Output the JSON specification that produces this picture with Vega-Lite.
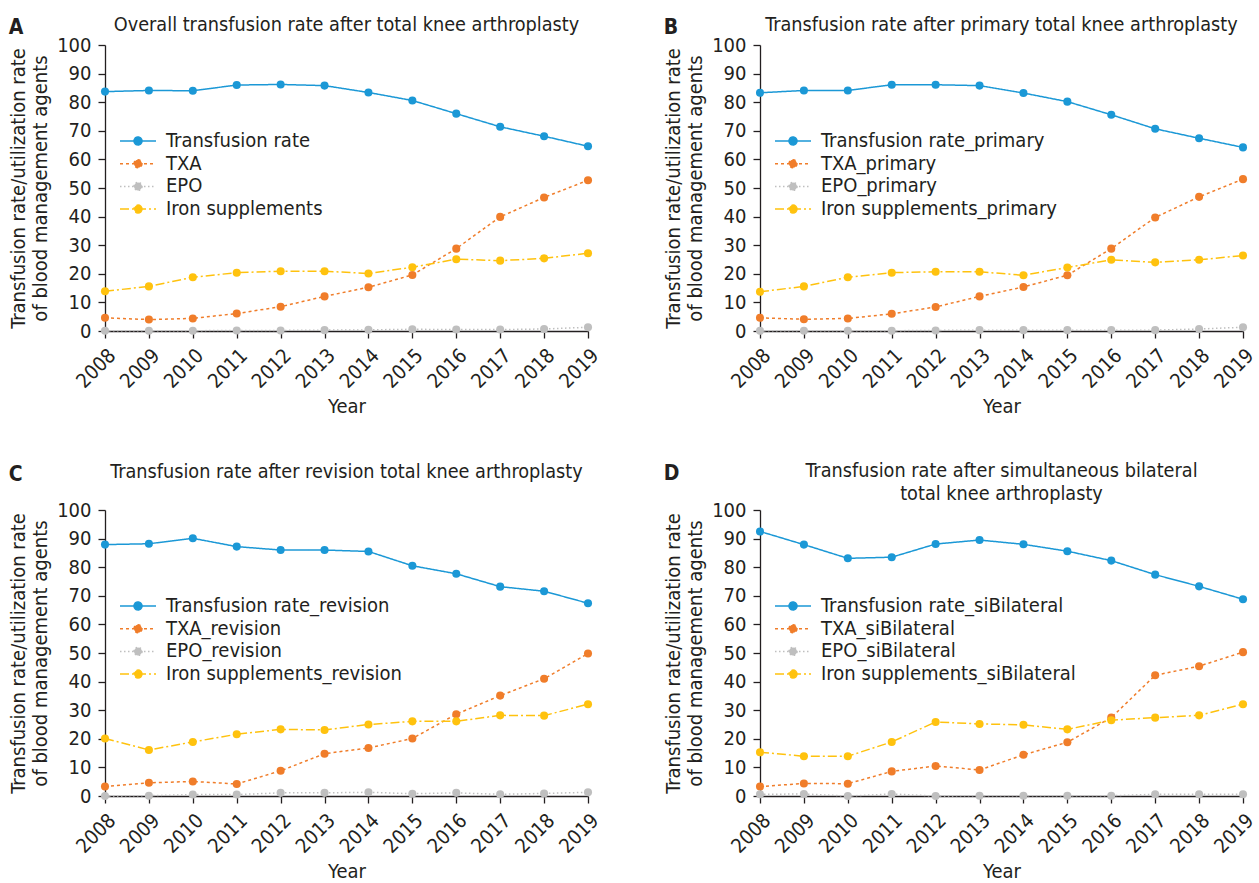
{
  "$schema": "https://vega.github.io/schema/vega-lite/v6.json",
  "background": "white",
  "padding": {"left": 8, "top": 15, "right": 0, "bottom": 0},
  "config": {
    "font": "Liberation Sans Narrow, Arial Narrow, DejaVu Sans Condensed, Liberation Sans",
    "view": {"stroke": null},
    "axis": {"grid": false, "domainColor": "#231F20", "tickColor": "#231F20", "labelColor": "#231F20", "titleColor": "#231F20", "labelFontSize": 20, "titleFontSize": 20, "titleFontWeight": "normal", "tickSize": 7, "domainWidth": 1.3, "tickWidth": 1.3, "labelPadding": 7},
    "title": {"color": "#231F20", "fontWeight": "normal", "fontSize": 19.7},
    "legend": {"orient": "none", "legendX": 22, "legendY": 85, "title": null, "labelFontSize": 20, "labelColor": "#231F20", "labelLimit": 0, "symbolType": "M-1.8,0H1.8M0.4,0A0.4,0.4,0,1,1,-0.4,0A0.4,0.4,0,1,1,0.4,0Z", "symbolSize": 400, "symbolStrokeWidth": 1.5, "symbolOpacity": 1, "labelOffset": 17, "rowPadding": 1.7}
  },
  "datasets": {
    "A": [
      {"year": "2008", "series": "Transfusion rate", "value": 83.7}, {"year": "2009", "series": "Transfusion rate", "value": 84.1}, {"year": "2010", "series": "Transfusion rate", "value": 84.0}, {"year": "2011", "series": "Transfusion rate", "value": 86.0}, {"year": "2012", "series": "Transfusion rate", "value": 86.2}, {"year": "2013", "series": "Transfusion rate", "value": 85.8}, {"year": "2014", "series": "Transfusion rate", "value": 83.4}, {"year": "2015", "series": "Transfusion rate", "value": 80.6}, {"year": "2016", "series": "Transfusion rate", "value": 76.0}, {"year": "2017", "series": "Transfusion rate", "value": 71.4}, {"year": "2018", "series": "Transfusion rate", "value": 68.1}, {"year": "2019", "series": "Transfusion rate", "value": 64.6},
      {"year": "2008", "series": "TXA", "value": 4.6}, {"year": "2009", "series": "TXA", "value": 4.0}, {"year": "2010", "series": "TXA", "value": 4.4}, {"year": "2011", "series": "TXA", "value": 6.1}, {"year": "2012", "series": "TXA", "value": 8.5}, {"year": "2013", "series": "TXA", "value": 12.1}, {"year": "2014", "series": "TXA", "value": 15.3}, {"year": "2015", "series": "TXA", "value": 19.6}, {"year": "2016", "series": "TXA", "value": 28.8}, {"year": "2017", "series": "TXA", "value": 39.9}, {"year": "2018", "series": "TXA", "value": 46.7}, {"year": "2019", "series": "TXA", "value": 52.7},
      {"year": "2008", "series": "EPO", "value": 0.1}, {"year": "2009", "series": "EPO", "value": 0.1}, {"year": "2010", "series": "EPO", "value": 0.1}, {"year": "2011", "series": "EPO", "value": 0.2}, {"year": "2012", "series": "EPO", "value": 0.2}, {"year": "2013", "series": "EPO", "value": 0.3}, {"year": "2014", "series": "EPO", "value": 0.4}, {"year": "2015", "series": "EPO", "value": 0.6}, {"year": "2016", "series": "EPO", "value": 0.5}, {"year": "2017", "series": "EPO", "value": 0.5}, {"year": "2018", "series": "EPO", "value": 0.7}, {"year": "2019", "series": "EPO", "value": 1.3},
      {"year": "2008", "series": "Iron supplements", "value": 13.9}, {"year": "2009", "series": "Iron supplements", "value": 15.6}, {"year": "2010", "series": "Iron supplements", "value": 18.8}, {"year": "2011", "series": "Iron supplements", "value": 20.4}, {"year": "2012", "series": "Iron supplements", "value": 20.9}, {"year": "2013", "series": "Iron supplements", "value": 20.9}, {"year": "2014", "series": "Iron supplements", "value": 20.1}, {"year": "2015", "series": "Iron supplements", "value": 22.3}, {"year": "2016", "series": "Iron supplements", "value": 25.1}, {"year": "2017", "series": "Iron supplements", "value": 24.6}, {"year": "2018", "series": "Iron supplements", "value": 25.4}, {"year": "2019", "series": "Iron supplements", "value": 27.2}
    ],
    "B": [
      {"year": "2008", "series": "Transfusion rate_primary", "value": 83.3}, {"year": "2009", "series": "Transfusion rate_primary", "value": 84.1}, {"year": "2010", "series": "Transfusion rate_primary", "value": 84.1}, {"year": "2011", "series": "Transfusion rate_primary", "value": 86.1}, {"year": "2012", "series": "Transfusion rate_primary", "value": 86.1}, {"year": "2013", "series": "Transfusion rate_primary", "value": 85.8}, {"year": "2014", "series": "Transfusion rate_primary", "value": 83.2}, {"year": "2015", "series": "Transfusion rate_primary", "value": 80.2}, {"year": "2016", "series": "Transfusion rate_primary", "value": 75.6}, {"year": "2017", "series": "Transfusion rate_primary", "value": 70.7}, {"year": "2018", "series": "Transfusion rate_primary", "value": 67.4}, {"year": "2019", "series": "Transfusion rate_primary", "value": 64.2},
      {"year": "2008", "series": "TXA_primary", "value": 4.6}, {"year": "2009", "series": "TXA_primary", "value": 4.1}, {"year": "2010", "series": "TXA_primary", "value": 4.4}, {"year": "2011", "series": "TXA_primary", "value": 6.0}, {"year": "2012", "series": "TXA_primary", "value": 8.4}, {"year": "2013", "series": "TXA_primary", "value": 12.1}, {"year": "2014", "series": "TXA_primary", "value": 15.4}, {"year": "2015", "series": "TXA_primary", "value": 19.5}, {"year": "2016", "series": "TXA_primary", "value": 28.8}, {"year": "2017", "series": "TXA_primary", "value": 39.7}, {"year": "2018", "series": "TXA_primary", "value": 46.9}, {"year": "2019", "series": "TXA_primary", "value": 53.1},
      {"year": "2008", "series": "EPO_primary", "value": 0.1}, {"year": "2009", "series": "EPO_primary", "value": 0.1}, {"year": "2010", "series": "EPO_primary", "value": 0.1}, {"year": "2011", "series": "EPO_primary", "value": 0.1}, {"year": "2012", "series": "EPO_primary", "value": 0.2}, {"year": "2013", "series": "EPO_primary", "value": 0.3}, {"year": "2014", "series": "EPO_primary", "value": 0.3}, {"year": "2015", "series": "EPO_primary", "value": 0.3}, {"year": "2016", "series": "EPO_primary", "value": 0.3}, {"year": "2017", "series": "EPO_primary", "value": 0.3}, {"year": "2018", "series": "EPO_primary", "value": 0.7}, {"year": "2019", "series": "EPO_primary", "value": 1.3},
      {"year": "2008", "series": "Iron supplements_primary", "value": 13.7}, {"year": "2009", "series": "Iron supplements_primary", "value": 15.6}, {"year": "2010", "series": "Iron supplements_primary", "value": 18.8}, {"year": "2011", "series": "Iron supplements_primary", "value": 20.4}, {"year": "2012", "series": "Iron supplements_primary", "value": 20.7}, {"year": "2013", "series": "Iron supplements_primary", "value": 20.7}, {"year": "2014", "series": "Iron supplements_primary", "value": 19.5}, {"year": "2015", "series": "Iron supplements_primary", "value": 22.2}, {"year": "2016", "series": "Iron supplements_primary", "value": 24.9}, {"year": "2017", "series": "Iron supplements_primary", "value": 24.0}, {"year": "2018", "series": "Iron supplements_primary", "value": 24.9}, {"year": "2019", "series": "Iron supplements_primary", "value": 26.4}
    ],
    "C": [
      {"year": "2008", "series": "Transfusion rate_revision", "value": 87.9}, {"year": "2009", "series": "Transfusion rate_revision", "value": 88.2}, {"year": "2010", "series": "Transfusion rate_revision", "value": 90.1}, {"year": "2011", "series": "Transfusion rate_revision", "value": 87.2}, {"year": "2012", "series": "Transfusion rate_revision", "value": 86.0}, {"year": "2013", "series": "Transfusion rate_revision", "value": 86.0}, {"year": "2014", "series": "Transfusion rate_revision", "value": 85.5}, {"year": "2015", "series": "Transfusion rate_revision", "value": 80.5}, {"year": "2016", "series": "Transfusion rate_revision", "value": 77.7}, {"year": "2017", "series": "Transfusion rate_revision", "value": 73.2}, {"year": "2018", "series": "Transfusion rate_revision", "value": 71.6}, {"year": "2019", "series": "Transfusion rate_revision", "value": 67.4},
      {"year": "2008", "series": "TXA_revision", "value": 3.3}, {"year": "2009", "series": "TXA_revision", "value": 4.6}, {"year": "2010", "series": "TXA_revision", "value": 5.1}, {"year": "2011", "series": "TXA_revision", "value": 4.2}, {"year": "2012", "series": "TXA_revision", "value": 8.8}, {"year": "2013", "series": "TXA_revision", "value": 14.8}, {"year": "2014", "series": "TXA_revision", "value": 16.8}, {"year": "2015", "series": "TXA_revision", "value": 20.1}, {"year": "2016", "series": "TXA_revision", "value": 28.6}, {"year": "2017", "series": "TXA_revision", "value": 35.1}, {"year": "2018", "series": "TXA_revision", "value": 41.0}, {"year": "2019", "series": "TXA_revision", "value": 49.8},
      {"year": "2008", "series": "EPO_revision", "value": 0.0}, {"year": "2009", "series": "EPO_revision", "value": 0.1}, {"year": "2010", "series": "EPO_revision", "value": 0.5}, {"year": "2011", "series": "EPO_revision", "value": 0.5}, {"year": "2012", "series": "EPO_revision", "value": 1.1}, {"year": "2013", "series": "EPO_revision", "value": 1.1}, {"year": "2014", "series": "EPO_revision", "value": 1.3}, {"year": "2015", "series": "EPO_revision", "value": 0.8}, {"year": "2016", "series": "EPO_revision", "value": 1.1}, {"year": "2017", "series": "EPO_revision", "value": 0.6}, {"year": "2018", "series": "EPO_revision", "value": 0.9}, {"year": "2019", "series": "EPO_revision", "value": 1.3},
      {"year": "2008", "series": "Iron supplements_revision", "value": 20.1}, {"year": "2009", "series": "Iron supplements_revision", "value": 16.1}, {"year": "2010", "series": "Iron supplements_revision", "value": 18.9}, {"year": "2011", "series": "Iron supplements_revision", "value": 21.6}, {"year": "2012", "series": "Iron supplements_revision", "value": 23.3}, {"year": "2013", "series": "Iron supplements_revision", "value": 23.1}, {"year": "2014", "series": "Iron supplements_revision", "value": 25.0}, {"year": "2015", "series": "Iron supplements_revision", "value": 26.1}, {"year": "2016", "series": "Iron supplements_revision", "value": 26.1}, {"year": "2017", "series": "Iron supplements_revision", "value": 28.2}, {"year": "2018", "series": "Iron supplements_revision", "value": 28.1}, {"year": "2019", "series": "Iron supplements_revision", "value": 32.1}
    ],
    "D": [
      {"year": "2008", "series": "Transfusion rate_siBilateral", "value": 92.5}, {"year": "2009", "series": "Transfusion rate_siBilateral", "value": 87.9}, {"year": "2010", "series": "Transfusion rate_siBilateral", "value": 83.1}, {"year": "2011", "series": "Transfusion rate_siBilateral", "value": 83.5}, {"year": "2012", "series": "Transfusion rate_siBilateral", "value": 88.1}, {"year": "2013", "series": "Transfusion rate_siBilateral", "value": 89.5}, {"year": "2014", "series": "Transfusion rate_siBilateral", "value": 88.0}, {"year": "2015", "series": "Transfusion rate_siBilateral", "value": 85.6}, {"year": "2016", "series": "Transfusion rate_siBilateral", "value": 82.3}, {"year": "2017", "series": "Transfusion rate_siBilateral", "value": 77.4}, {"year": "2018", "series": "Transfusion rate_siBilateral", "value": 73.3}, {"year": "2019", "series": "Transfusion rate_siBilateral", "value": 68.8},
      {"year": "2008", "series": "TXA_siBilateral", "value": 3.3}, {"year": "2009", "series": "TXA_siBilateral", "value": 4.4}, {"year": "2010", "series": "TXA_siBilateral", "value": 4.3}, {"year": "2011", "series": "TXA_siBilateral", "value": 8.6}, {"year": "2012", "series": "TXA_siBilateral", "value": 10.5}, {"year": "2013", "series": "TXA_siBilateral", "value": 9.1}, {"year": "2014", "series": "TXA_siBilateral", "value": 14.4}, {"year": "2015", "series": "TXA_siBilateral", "value": 18.8}, {"year": "2016", "series": "TXA_siBilateral", "value": 27.4}, {"year": "2017", "series": "TXA_siBilateral", "value": 42.2}, {"year": "2018", "series": "TXA_siBilateral", "value": 45.4}, {"year": "2019", "series": "TXA_siBilateral", "value": 50.3},
      {"year": "2008", "series": "EPO_siBilateral", "value": 0.6}, {"year": "2009", "series": "EPO_siBilateral", "value": 0.7}, {"year": "2010", "series": "EPO_siBilateral", "value": 0.0}, {"year": "2011", "series": "EPO_siBilateral", "value": 0.7}, {"year": "2012", "series": "EPO_siBilateral", "value": 0.0}, {"year": "2013", "series": "EPO_siBilateral", "value": 0.1}, {"year": "2014", "series": "EPO_siBilateral", "value": 0.1}, {"year": "2015", "series": "EPO_siBilateral", "value": 0.1}, {"year": "2016", "series": "EPO_siBilateral", "value": 0.1}, {"year": "2017", "series": "EPO_siBilateral", "value": 0.6}, {"year": "2018", "series": "EPO_siBilateral", "value": 0.6}, {"year": "2019", "series": "EPO_siBilateral", "value": 0.6},
      {"year": "2008", "series": "Iron supplements_siBilateral", "value": 15.3}, {"year": "2009", "series": "Iron supplements_siBilateral", "value": 13.9}, {"year": "2010", "series": "Iron supplements_siBilateral", "value": 13.9}, {"year": "2011", "series": "Iron supplements_siBilateral", "value": 18.9}, {"year": "2012", "series": "Iron supplements_siBilateral", "value": 25.9}, {"year": "2013", "series": "Iron supplements_siBilateral", "value": 25.2}, {"year": "2014", "series": "Iron supplements_siBilateral", "value": 24.9}, {"year": "2015", "series": "Iron supplements_siBilateral", "value": 23.3}, {"year": "2016", "series": "Iron supplements_siBilateral", "value": 26.5}, {"year": "2017", "series": "Iron supplements_siBilateral", "value": 27.4}, {"year": "2018", "series": "Iron supplements_siBilateral", "value": 28.2}, {"year": "2019", "series": "Iron supplements_siBilateral", "value": 32.1}
    ]
  },
  "columns": 2,
  "spacing": {"column": 60, "row": 44},
  "resolve": {"scale": {"color": "independent", "strokeDash": "independent"}, "legend": {"color": "independent", "strokeDash": "independent"}},
  "concat": [
    {
      "title": {"text": "A", "anchor": "start", "frame": "bounds", "fontSize": 21, "fontWeight": "bold", "dy": 23, "offset": 0},
      "resolve": {"scale": {"color": "independent", "strokeDash": "independent"}, "legend": {"color": "independent", "strokeDash": "independent"}},
      "vconcat": [
        {
          "width": 483, "height": 286,
          "title": {"text": "Overall transfusion rate after total knee arthroplasty", "offset": 0},
          "data": {"name": "A"},
          "encoding": {
            "x": {"field": "year", "type": "ordinal", "scale": {"type": "point", "padding": 0}, "axis": {"title": "Year", "labelAngle": -45, "titlePadding": 5}},
            "y": {"field": "value", "type": "quantitative", "scale": {"domain": [0, 100], "nice": false}, "axis": {"values": [0, 10, 20, 30, 40, 50, 60, 70, 80, 90, 100], "title": ["Transfusion rate/utilization rate", "of blood management agents"], "titleLineHeight": 22, "titlePadding": 6}},
            "color": {"field": "series", "type": "nominal", "scale": {"domain": ["Transfusion rate", "TXA", "EPO", "Iron supplements"], "range": ["#1B98D6", "#F07D2A", "#BFBFBF", "#FFC20E"]},
              "legend": {"encode": {"symbols": {"update": {"fill": {"signal": "indexof(datum.value,'TXA')>=0 ? '#F07D2A' : indexof(datum.value,'EPO')>=0 ? '#BFBFBF' : indexof(datum.value,'Iron')>=0 ? '#FFC20E' : '#1B98D6'"}, "stroke": {"signal": "indexof(datum.value,'TXA')>=0 ? '#F07D2A' : indexof(datum.value,'EPO')>=0 ? '#BFBFBF' : indexof(datum.value,'Iron')>=0 ? '#FFC20E' : '#1B98D6'"}, "strokeDash": {"signal": "indexof(datum.value,'TXA')>=0 ? [3,3] : indexof(datum.value,'EPO')>=0 ? [1.5,2.5] : indexof(datum.value,'Iron')>=0 ? [9,3,2,3] : [1,0]"}}}}}}
          },
          "layer": [
            {"mark": {"type": "line", "strokeWidth": 1.5}, "encoding": {"strokeDash": {"field": "series", "type": "nominal", "scale": {"domain": ["Transfusion rate", "TXA", "EPO", "Iron supplements"], "range": [[1, 0], [3, 3], [1.5, 2.5], [9, 3, 2, 3]]}, "legend": null}}},
            {"mark": {"type": "point", "filled": true, "size": 65, "opacity": 1}}
          ]
        }
      ]
    },
    {
      "title": {"text": "B", "anchor": "start", "frame": "bounds", "fontSize": 21, "fontWeight": "bold", "dy": 23, "offset": 0},
      "resolve": {"scale": {"color": "independent", "strokeDash": "independent"}, "legend": {"color": "independent", "strokeDash": "independent"}},
      "vconcat": [
        {
          "width": 483, "height": 286,
          "title": {"text": "Transfusion rate after primary total knee arthroplasty", "offset": 0},
          "data": {"name": "B"},
          "encoding": {
            "x": {"field": "year", "type": "ordinal", "scale": {"type": "point", "padding": 0}, "axis": {"title": "Year", "labelAngle": -45, "titlePadding": 5}},
            "y": {"field": "value", "type": "quantitative", "scale": {"domain": [0, 100], "nice": false}, "axis": {"values": [0, 10, 20, 30, 40, 50, 60, 70, 80, 90, 100], "title": ["Transfusion rate/utilization rate", "of blood management agents"], "titleLineHeight": 22, "titlePadding": 6}},
            "color": {"field": "series", "type": "nominal", "scale": {"domain": ["Transfusion rate_primary", "TXA_primary", "EPO_primary", "Iron supplements_primary"], "range": ["#1B98D6", "#F07D2A", "#BFBFBF", "#FFC20E"]},
              "legend": {"encode": {"symbols": {"update": {"fill": {"signal": "indexof(datum.value,'TXA')>=0 ? '#F07D2A' : indexof(datum.value,'EPO')>=0 ? '#BFBFBF' : indexof(datum.value,'Iron')>=0 ? '#FFC20E' : '#1B98D6'"}, "stroke": {"signal": "indexof(datum.value,'TXA')>=0 ? '#F07D2A' : indexof(datum.value,'EPO')>=0 ? '#BFBFBF' : indexof(datum.value,'Iron')>=0 ? '#FFC20E' : '#1B98D6'"}, "strokeDash": {"signal": "indexof(datum.value,'TXA')>=0 ? [3,3] : indexof(datum.value,'EPO')>=0 ? [1.5,2.5] : indexof(datum.value,'Iron')>=0 ? [9,3,2,3] : [1,0]"}}}}}}
          },
          "layer": [
            {"mark": {"type": "line", "strokeWidth": 1.5}, "encoding": {"strokeDash": {"field": "series", "type": "nominal", "scale": {"domain": ["Transfusion rate_primary", "TXA_primary", "EPO_primary", "Iron supplements_primary"], "range": [[1, 0], [3, 3], [1.5, 2.5], [9, 3, 2, 3]]}, "legend": null}}},
            {"mark": {"type": "point", "filled": true, "size": 65, "opacity": 1}}
          ]
        }
      ]
    },
    {
      "title": {"text": "C", "anchor": "start", "frame": "bounds", "fontSize": 21, "fontWeight": "bold", "dy": 23, "offset": 0},
      "resolve": {"scale": {"color": "independent", "strokeDash": "independent"}, "legend": {"color": "independent", "strokeDash": "independent"}},
      "vconcat": [
        {
          "width": 483, "height": 286,
          "title": {"text": "Transfusion rate after revision total knee arthroplasty", "offset": 18},
          "data": {"name": "C"},
          "encoding": {
            "x": {"field": "year", "type": "ordinal", "scale": {"type": "point", "padding": 0}, "axis": {"title": "Year", "labelAngle": -45, "titlePadding": 5}},
            "y": {"field": "value", "type": "quantitative", "scale": {"domain": [0, 100], "nice": false}, "axis": {"values": [0, 10, 20, 30, 40, 50, 60, 70, 80, 90, 100], "title": ["Transfusion rate/utilization rate", "of blood management agents"], "titleLineHeight": 22, "titlePadding": 6}},
            "color": {"field": "series", "type": "nominal", "scale": {"domain": ["Transfusion rate_revision", "TXA_revision", "EPO_revision", "Iron supplements_revision"], "range": ["#1B98D6", "#F07D2A", "#BFBFBF", "#FFC20E"]},
              "legend": {"encode": {"symbols": {"update": {"fill": {"signal": "indexof(datum.value,'TXA')>=0 ? '#F07D2A' : indexof(datum.value,'EPO')>=0 ? '#BFBFBF' : indexof(datum.value,'Iron')>=0 ? '#FFC20E' : '#1B98D6'"}, "stroke": {"signal": "indexof(datum.value,'TXA')>=0 ? '#F07D2A' : indexof(datum.value,'EPO')>=0 ? '#BFBFBF' : indexof(datum.value,'Iron')>=0 ? '#FFC20E' : '#1B98D6'"}, "strokeDash": {"signal": "indexof(datum.value,'TXA')>=0 ? [3,3] : indexof(datum.value,'EPO')>=0 ? [1.5,2.5] : indexof(datum.value,'Iron')>=0 ? [9,3,2,3] : [1,0]"}}}}}}
          },
          "layer": [
            {"mark": {"type": "line", "strokeWidth": 1.5}, "encoding": {"strokeDash": {"field": "series", "type": "nominal", "scale": {"domain": ["Transfusion rate_revision", "TXA_revision", "EPO_revision", "Iron supplements_revision"], "range": [[1, 0], [3, 3], [1.5, 2.5], [9, 3, 2, 3]]}, "legend": null}}},
            {"mark": {"type": "point", "filled": true, "size": 65, "opacity": 1}}
          ]
        }
      ]
    },
    {
      "title": {"text": "D", "anchor": "start", "frame": "bounds", "fontSize": 21, "fontWeight": "bold", "dy": 23, "offset": 0},
      "resolve": {"scale": {"color": "independent", "strokeDash": "independent"}, "legend": {"color": "independent", "strokeDash": "independent"}},
      "vconcat": [
        {
          "width": 483, "height": 286,
          "title": {"text": ["Transfusion rate after simultaneous bilateral", "total knee arthroplasty"], "offset": -4, "lineHeight": 23},
          "data": {"name": "D"},
          "encoding": {
            "x": {"field": "year", "type": "ordinal", "scale": {"type": "point", "padding": 0}, "axis": {"title": "Year", "labelAngle": -45, "titlePadding": 5}},
            "y": {"field": "value", "type": "quantitative", "scale": {"domain": [0, 100], "nice": false}, "axis": {"values": [0, 10, 20, 30, 40, 50, 60, 70, 80, 90, 100], "title": ["Transfusion rate/utilization rate", "of blood management agents"], "titleLineHeight": 22, "titlePadding": 6}},
            "color": {"field": "series", "type": "nominal", "scale": {"domain": ["Transfusion rate_siBilateral", "TXA_siBilateral", "EPO_siBilateral", "Iron supplements_siBilateral"], "range": ["#1B98D6", "#F07D2A", "#BFBFBF", "#FFC20E"]},
              "legend": {"encode": {"symbols": {"update": {"fill": {"signal": "indexof(datum.value,'TXA')>=0 ? '#F07D2A' : indexof(datum.value,'EPO')>=0 ? '#BFBFBF' : indexof(datum.value,'Iron')>=0 ? '#FFC20E' : '#1B98D6'"}, "stroke": {"signal": "indexof(datum.value,'TXA')>=0 ? '#F07D2A' : indexof(datum.value,'EPO')>=0 ? '#BFBFBF' : indexof(datum.value,'Iron')>=0 ? '#FFC20E' : '#1B98D6'"}, "strokeDash": {"signal": "indexof(datum.value,'TXA')>=0 ? [3,3] : indexof(datum.value,'EPO')>=0 ? [1.5,2.5] : indexof(datum.value,'Iron')>=0 ? [9,3,2,3] : [1,0]"}}}}}}
          },
          "layer": [
            {"mark": {"type": "line", "strokeWidth": 1.5}, "encoding": {"strokeDash": {"field": "series", "type": "nominal", "scale": {"domain": ["Transfusion rate_siBilateral", "TXA_siBilateral", "EPO_siBilateral", "Iron supplements_siBilateral"], "range": [[1, 0], [3, 3], [1.5, 2.5], [9, 3, 2, 3]]}, "legend": null}}},
            {"mark": {"type": "point", "filled": true, "size": 65, "opacity": 1}}
          ]
        }
      ]
    }
  ]
}
